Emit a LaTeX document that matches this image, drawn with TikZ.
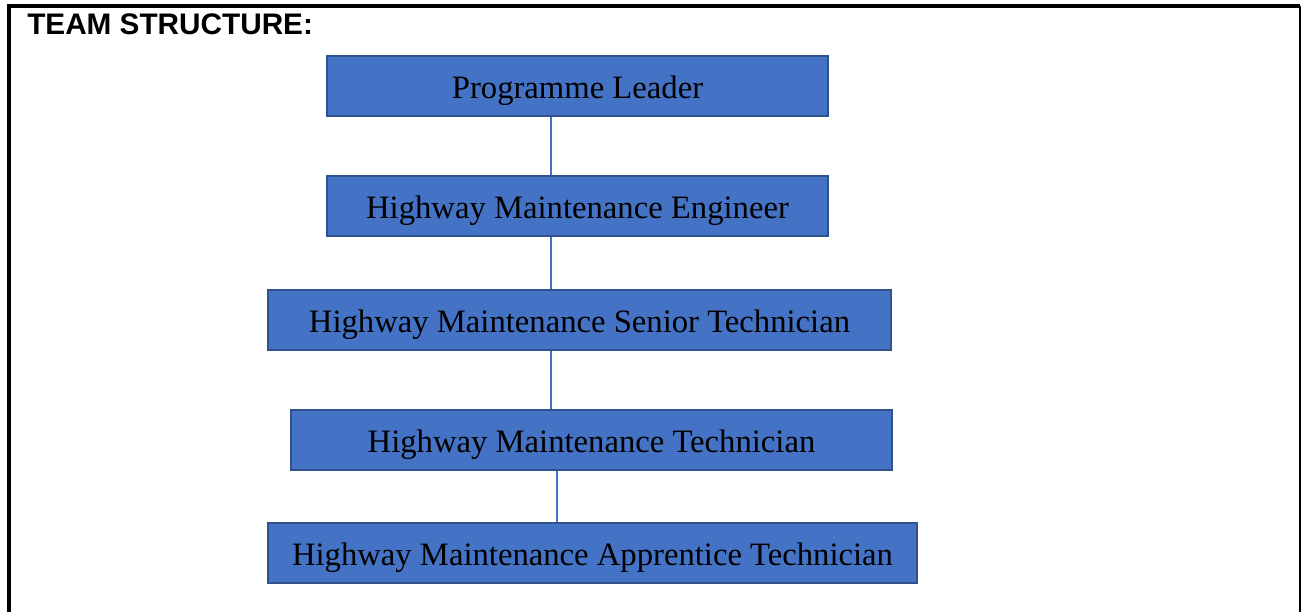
\documentclass[tikz,border=0pt]{standalone}
\usepackage{fontspec}
\setmainfont{Liberation Serif}
\newfontfamily\titlefont{Liberation Sans}
\definecolor{boxfill}{HTML}{4472C4}
\definecolor{boxline}{HTML}{2F528F}
\begin{document}
\begin{tikzpicture}[x=0.75pt,y=-0.75pt,
  rolebox/.style={draw=boxline,line width=1.5pt,fill=boxfill,inner sep=0pt,
    font=\fontsize{24.5}{28}\selectfont,text=black,minimum height=45pt,
    text height=20pt,text depth=2pt},
  link/.style={draw=boxfill,line width=0.9pt}]
\useasboundingbox (0,0) rectangle (1301,612);
\draw[line width=2.4pt] (9,612) -- (9,6) -- (1300,6);
\draw[line width=1.2pt] (1300,6) -- (1300,612);
\node[anchor=west,inner sep=0pt,font=\titlefont\bfseries\fontsize{22.3}{25}\selectfont] (title) at (27,24) {TEAM STRUCTURE:};
\node[rolebox,minimum width=501*0.75pt] (pl) at (577.5,86) {Programme Leader};
\node[rolebox,minimum width=501*0.75pt] (eng) at (577.5,206) {Highway Maintenance Engineer};
\node[rolebox,minimum width=623*0.75pt] (sen) at (579.5,320) {Highway Maintenance Senior Technician};
\node[rolebox,minimum width=601*0.75pt] (tec) at (591.5,440) {Highway Maintenance Technician};
\node[rolebox,minimum width=649*0.75pt] (app) at (592.5,553) {Highway Maintenance Apprentice Technician};
\draw[link] (pl.south -| 551,0) -- (eng.north -| 551,0);
\draw[link] (eng.south -| 551,0) -- (sen.north -| 551,0);
\draw[link] (sen.south -| 551,0) -- (tec.north -| 551,0);
\draw[link] (tec.south -| 557,0) -- (app.north -| 557,0);
\end{tikzpicture}
\end{document}
